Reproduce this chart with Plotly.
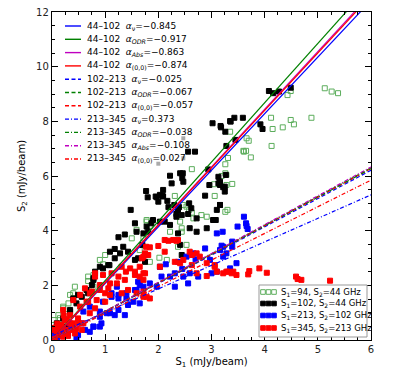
import plotly.graph_objects as go

# ---- scatter data (S1, S2 in mJy/beam) ----
green_x = [5.13, 5.26, 5.38, 4.49, 4.43, 4.12, 4.49, 4.55, 4.88, 4.34, 4.15, 4.13, 3.35, 3.66, 3.70, 3.60,
           3.65, 3.74, 3.31, 3.26, 3.26, 3.28, 3.19, 3.39, 3.28, 3.26, 3.30, 2.63, 3.61, 3.05, 2.53, 2.63,
           2.41, 2.44, 2.91, 1.78, 1.84, 1.59, 2.22, 1.50, 1.72, 2.53, 2.37, 2.02, 2.16, 1.00, 0.90, 0.96,
           0.78, 0.68, 0.43, 0.34, 0.21, 0.40, 0.31, 0.21, 0.12, 0.03, 1.75, 1.65, 0.68, 0.78, 2.31, 2.47,
           2.58, 2.66, 2.81, 3.06, 2.44, 1.84, 2.03, 0.10, 0.05, 0.20, 0.15, 0.25, 1.78]
green_y = [9.21, 9.09, 9.03, 9.11, 8.96, 8.13, 8.05, 7.89, 8.13, 7.78, 7.72, 7.10, 7.62, 7.38, 7.29, 6.92,
           6.92, 6.68, 6.66, 6.43, 6.10, 6.04, 6.00, 5.71, 5.67, 4.69, 4.76, 6.25, 6.89, 5.70, 4.88, 4.66,
           4.33, 4.09, 4.51, 4.33, 4.18, 4.03, 3.96, 3.72, 3.72, 3.48, 3.41, 3.01, 2.93, 3.11, 2.93, 2.77,
           2.38, 2.16, 1.95, 1.65, 1.16, 1.71, 1.34, 1.22, 0.91, 0.73, 3.11, 3.29, 2.32, 1.95, 5.27, 4.94,
           4.76, 4.45, 4.57, 5.27, 3.96, 2.86, 2.68, 0.50, 0.30, 0.60, 0.80, 0.95, 4.39]

black_x = [4.08, 4.16, 4.27, 4.49, 3.35, 3.43, 3.59, 3.92, 3.96, 3.18, 3.26, 3.28, 3.45, 3.16, 3.25, 3.16,
           3.02, 2.69, 2.56, 2.41, 2.45, 2.22, 2.03, 1.97, 2.09, 1.77, 1.80, 2.00, 1.48, 1.56, 2.03, 2.17,
           2.19, 2.34, 2.39, 2.34, 2.56, 2.72, 2.59, 2.91, 3.03, 3.10, 3.13, 3.25, 1.90, 1.78, 1.59, 1.37,
           1.25, 1.18, 1.08, 0.90, 0.81, 0.78, 0.65, 0.49, 0.40, 0.34, 1.09, 1.43, 1.34, 1.28, 1.18, 1.06,
           0.96, 0.78, 0.75, 0.68, 0.56, 0.46, 0.34, 0.21, 0.09, 1.62, 1.56, 0.28, 0.02, 1.95, 2.08, 2.30,
           2.37, 2.44, 2.58, 2.62, 2.88, 3.16, 3.08, 2.72, 2.37, 1.87, 1.81, 1.72, 2.12, 2.22, 2.41, 2.44,
           1.70, 1.75, 1.75, 3.17, 3.36, 2.94, 3.13, 3.27, 2.25, 2.46, 2.47, 2.96, 3.16, 3.22, 2.09]
black_y = [9.11, 9.03, 9.09, 9.23, 8.01, 8.13, 8.13, 7.89, 7.72, 7.78, 7.62, 7.10, 7.32, 5.79, 5.61, 4.94,
           7.93, 6.89, 6.89, 6.10, 5.92, 6.01, 5.31, 5.22, 5.25, 5.45, 5.22, 5.06, 4.76, 4.27, 4.33, 5.09,
           4.86, 4.61, 4.86, 4.51, 4.61, 4.45, 4.09, 4.09, 4.39, 4.76, 5.73, 5.43, 4.39, 4.15, 3.96, 3.86,
           3.76, 3.33, 2.74, 2.68, 2.50, 2.20, 1.83, 1.65, 1.52, 1.10, 3.23, 3.23, 3.41, 3.17, 2.99, 2.74,
           2.62, 2.26, 2.01, 1.71, 1.58, 1.34, 1.04, 0.79, 0.61, 2.99, 2.93, 0.49, 0.43, 5.25, 5.27, 4.94,
           4.76, 4.57, 5.00, 4.82, 5.28, 4.94, 4.39, 3.96, 3.90, 4.27, 3.96, 3.90, 4.33, 4.21, 3.48, 3.11,
           3.48, 3.11, 2.86, 7.83, 7.99, 6.24, 5.97, 6.04, 5.73, 6.10, 5.79, 5.67, 5.67, 5.59, 5.49]

blue_x = [3.61, 3.65, 3.66, 3.68, 3.49, 3.21, 3.39, 3.39, 3.19, 3.22, 3.16, 2.97, 2.88, 2.66, 2.53, 2.37,
          2.14, 2.03, 2.22, 2.06, 2.31, 2.47, 2.59, 2.75, 3.00, 3.10, 3.35, 3.47, 3.28, 1.84, 1.72, 1.59,
          1.40, 1.25, 1.12, 0.96, 1.43, 1.25, 1.09, 0.90, 0.78, 0.93, 0.62, 0.49, 2.31, 2.56, 1.97, 3.10,
          3.22, 1.22, 1.12, 1.25, 1.40, 1.53, 1.65, 0.71, 0.59, 0.90, 1.03, 1.18, 1.37, 0.90, 0.78, 0.71,
          0.46, 0.28, 0.15, 0.56, 1.62, 1.65, 1.56, 0.10, 0.20, 0.30, 0.05, 0.35, 2.45, 2.70]
blue_y = [4.51, 4.27, 4.17, 4.06, 4.15, 3.96, 3.60, 3.41, 3.45, 3.41, 3.29, 2.93, 3.35, 3.17, 3.05, 2.86,
          2.77, 2.68, 2.32, 2.32, 2.44, 2.32, 2.44, 2.32, 2.44, 2.50, 2.62, 2.81, 3.17, 2.07, 1.95, 1.83,
          1.71, 1.65, 1.58, 1.40, 1.28, 1.10, 0.98, 0.85, 0.49, 0.61, 0.37, 0.18, 1.95, 2.07, 1.95, 3.90,
          3.05, 1.95, 1.71, 1.52, 1.52, 1.40, 1.34, 1.22, 1.04, 1.04, 0.98, 0.91, 0.91, 0.49, 0.49, 0.30,
          0.06, 0.24, 0.30, 0.61, 2.13, 2.01, 1.83, 0.10, 0.15, 0.20, 0.30, 0.45, 2.60, 2.95]

red_x = [3.69, 3.71, 3.90, 4.04, 4.59, 4.62, 4.69, 5.23, 2.12, 2.19, 2.28, 2.34, 2.00, 1.84, 1.75, 1.69,
         1.81, 1.65, 1.47, 1.75, 2.03, 2.59, 2.63, 2.72, 2.78, 2.41, 2.72, 2.91, 3.06, 3.31, 3.38, 3.22,
         1.25, 1.37, 1.56, 1.09, 0.90, 1.00, 0.62, 0.75, 0.68, 0.40, 0.53, 0.28, 0.40, 0.21, 0.34, 0.81,
         0.81, 0.96, 1.12, 1.31, 1.39, 1.56, 1.65, 1.22, 1.06, 0.90, 0.71, 0.53, 0.65, 0.84, 1.00, 1.09,
         1.31, 1.43, 1.59, 1.72, 1.84, 0.21, 0.34, 0.49, 0.59, 0.15, 0.31, 0.43, 0.09, 0.21, 0.03, 0.34,
         0.24, 0.56, 0.71, 0.81, 2.37, 2.12, 1.77, 1.72, 2.31, 2.47, 2.63, 2.91, 3.06, 3.28, 3.41, 3.10,
         1.72, 1.72, 1.72, 1.78, 3.47, 0.05, 0.10, 0.12, 0.18, 0.25, 0.30, 0.38, 0.45, 0.50, 0.22, 0.10,
         0.06]
red_y = [2.40, 2.52, 2.62, 2.46, 2.32, 2.23, 2.20, 2.17, 3.66, 3.63, 3.66, 3.63, 3.44, 3.39, 3.17, 2.99,
         3.11, 2.68, 2.62, 2.44, 2.68, 3.23, 3.11, 3.17, 3.05, 2.81, 2.44, 2.34, 2.68, 2.50, 2.44, 2.44,
         2.32, 2.20, 2.50, 2.07, 2.01, 1.71, 1.89, 1.77, 1.40, 1.46, 1.22, 0.73, 0.61, 0.43, 0.37, 2.32,
         2.44, 2.38, 2.44, 2.68, 2.50, 2.38, 2.32, 2.07, 1.89, 1.83, 1.71, 1.65, 1.40, 1.46, 1.40, 1.65,
         1.71, 1.83, 1.71, 1.58, 1.52, 1.10, 0.91, 0.79, 0.61, 0.49, 0.37, 0.24, 0.18, 0.12, 0.37, 0.61,
         0.73, 0.37, 0.98, 1.16, 3.66, 3.23, 3.41, 3.05, 2.86, 2.93, 2.74, 2.81, 2.74, 2.50, 2.50, 2.50,
         2.44, 2.20, 1.77, 1.58, 2.38, 0.05, 0.30, 0.20, 0.55, 0.30, 0.15, 0.50, 0.40, 0.60, 0.90, 0.60,
         0.45]

gray_x = [2.47, 2.00, 2.47]
gray_y = [7.38, 6.45, 6.65]

# ---- fitted lines: S2 = slope*S1 + intercept ----
line_bands = ["44\u2013102"] * 4 + ["102\u2013213"] * 3 + ["213\u2013345"] * 4
line_alpha_lbl = ["\u03bd", "ODR", "Abs", "(0,0)", "\u03bd", "ODR", "(0,0)", "\u03bd", "ODR", "Abs", "(0,0)"]
line_alpha_val = ["\u22120.845", "\u22120.917", "\u22120.863", "\u22120.874",
                  "\u22120.025", "\u22120.067", "\u22120.057",
                  "0.373", "\u22120.038", "\u22120.108", "0.027"]
line_slope = [2.07, 2.17, 2.11, 2.10, 1.035, 1.05, 1.045, 0.86, 1.045, 1.055, 0.975]
line_icpt = [0, 0, 0, 0, 0, 0, 0, 0.15, 0, 0, 0]
line_color = ["#0000ff", "#008000", "#bf00bf", "#ff0000",
              "#0000ff", "#008000", "#ff0000",
              "#0000ff", "#008000", "#bf00bf", "#ff0000"]
line_dash = ["solid"] * 4 + ["4px,2.5px"] * 3 + ["4px,2px,1px,2px"] * 4

fig = go.Figure()

scat = [
    (green_x, green_y, "square-open", "#5cad5c", "S<sub>1</sub>=94, S<sub>2</sub>=44 GHz"),
    (black_x, black_y, "square", "#000000", "S<sub>1</sub>=102, S<sub>2</sub>=44 GHz"),
    (blue_x, blue_y, "square", "#0000ff", "S<sub>1</sub>=213, S<sub>2</sub>=102 GHz"),
    (red_x, red_y, "square", "#ff0000", "S<sub>1</sub>=345, S<sub>2</sub>=213 GHz"),
]
for xs, ys, sym, col, name in scat:
    fig.add_trace(go.Scatter(x=xs, y=ys, mode="markers", name=name, showlegend=False,
                             marker=dict(symbol=sym, size=5, color=col,
                                         line=dict(color=col, width=1))))
fig.add_trace(go.Scatter(x=gray_x, y=gray_y, mode="markers", showlegend=False,
                         marker=dict(symbol="square", size=4, color="#aaaaaa")))

xs_line = [0, 6]
for m, b, c, d in zip(line_slope, line_icpt, line_color, line_dash):
    fig.add_trace(go.Scatter(x=xs_line, y=[m * v + b for v in xs_line], mode="lines",
                             showlegend=False, line=dict(color=c, width=1.2, dash=d)))

# page body has an 8px margin, so the figure is drawn 8px in from the window corner
OFF = 8
W, H = 412 - OFF, 369 - OFF
PL, PR, PT, PB = 52, 371, 12, 340   # plot area in window pixels


def px(x):
    return (x - PL) / (PR - PL)


def py(y):
    return (PB - y) / (PB - PT)


shapes = []
annots = []
for i in range(len(line_bands)):
    yy = 26 + i * 13.3
    shapes.append(dict(type="line", xref="paper", yref="paper", x0=px(65), x1=px(81),
                       y0=py(yy), y1=py(yy),
                       line=dict(color=line_color[i], width=1.4, dash=line_dash[i])))
    sub = line_alpha_lbl[i] if line_alpha_lbl[i] in ("\u03bd", "(0,0)") else "<i>" + line_alpha_lbl[i] + "</i>"
    annots.append(dict(xref="paper", yref="paper", x=px(85), y=py(yy), xanchor="left", yanchor="middle",
                       showarrow=False, font=dict(size=9, color="black"),
                       text=line_bands[i] + "  <i>\u03b1</i><sub>" + sub + "</sub>=" + line_alpha_val[i]))

shapes.append(dict(type="rect", xref="paper", yref="paper", x0=px(259), x1=px(367),
                   y0=py(337), y1=py(285), line=dict(color="#999999", width=1), fillcolor="white",
                   layer="above"))
for i, (xs, ys, sym, col, name) in enumerate(scat):
    yy = [292, 303.5, 315.5, 328][i]
    for xc in (263, 268.5, 274):
        shapes.append(dict(type="rect", xref="paper", yref="paper", xsizemode="pixel", ysizemode="pixel",
                           xanchor=px(xc), yanchor=py(yy), x0=-2.3, x1=2.3, y0=-2.3, y1=2.3,
                           line=dict(color=col, width=1),
                           fillcolor="white" if sym == "square-open" else col, layer="above"))
    annots.append(dict(xref="paper", yref="paper", x=px(279), y=py(yy), xanchor="left", yanchor="middle",
                       showarrow=False, font=dict(size=8.5, color="black"), text=name))

axis_common = dict(showline=True, linecolor="black", linewidth=1.3, mirror="ticks", ticks="inside",
                   ticklen=6, tickcolor="black", showgrid=False, zeroline=False, automargin=False,
                   ticklabeloverflow="allow", tickfont=dict(size=10, color="#222222"))

fig.update_layout(
    width=W, height=H,
    margin=dict(l=PL - OFF, r=412 - PR, t=PT - OFF, b=369 - PB, autoexpand=False),
    plot_bgcolor="white", paper_bgcolor="white",
    font=dict(family="DejaVu Sans", color="black"),
    xaxis=dict(range=[0, 6], dtick=1, tick0=0,
               minor=dict(dtick=0.25, ticks="inside", ticklen=3, tickcolor="black"),
               title=dict(text="S<sub>1</sub> (mJy/beam)", font=dict(size=10)),
               **axis_common),
    yaxis=dict(range=[0, 12], dtick=2, tick0=0,
               minor=dict(dtick=0.5, ticks="inside", ticklen=3, tickcolor="black"),
               title=dict(text="S<sub>2</sub> (mJy/beam)", font=dict(size=10), standoff=8),
               **axis_common),
    shapes=shapes,
    annotations=annots,
)

fig.write_html("out.html")
